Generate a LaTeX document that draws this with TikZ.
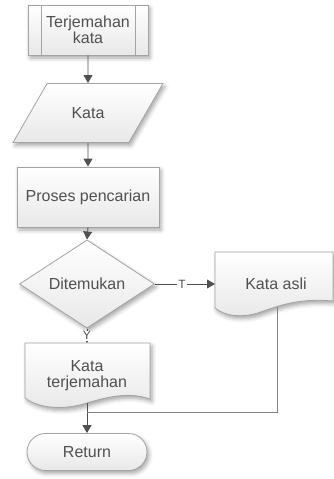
\documentclass[tikz,border=0pt]{standalone}
\usepackage{fontspec}
\setmainfont{Liberation Sans}
\usetikzlibrary{shapes.geometric}
\usetikzlibrary{shapes.misc}
\usetikzlibrary{arrows.meta}
\usetikzlibrary{shadows.blur}
\definecolor{lineGray}{HTML}{A3A3A3}
\definecolor{arrowGray}{HTML}{505050}
\definecolor{textGray}{HTML}{505050}
\tikzset{mybox/.style={draw=lineGray, line width=0.8pt, top color=white, bottom color=black!9, text=textGray, inner sep=0pt, font=\fontsize{16}{16}\selectfont, align=center, blur shadow={shadow xshift=2pt, shadow yshift=-3pt, shadow blur radius=4pt, shadow opacity=35}}}
\tikzset{myboxStart/.style={mybox, minimum width=120pt, minimum height=50pt, path picture={
  \draw[lineGray] ([xshift=13pt]path picture bounding box.north west) -- ([xshift=13pt]path picture bounding box.south west);
  \draw[lineGray] ([xshift=-13pt]path picture bounding box.north east) -- ([xshift=-13pt]path picture bounding box.south east);}}}
\tikzset{myboxIO/.style={mybox, trapezium, trapezium left angle=60, trapezium right angle=120, trapezium stretches body, inner xsep=0pt, inner ysep=24pt, minimum width=150pt}}
\tikzset{myboxProc/.style={mybox, minimum width=142pt, minimum height=60pt}}
\tikzset{myboxDec/.style={mybox, diamond, minimum width=135pt, minimum height=66pt}}
\tikzset{myboxEnd/.style={mybox, rounded rectangle, minimum width=120pt, minimum height=37pt}}
\tikzset{myboxDoc/.style={mybox}}
\tikzset{docText/.style={text=textGray, font=\fontsize{16}{16}\selectfont, align=center}}
\tikzset{arr/.style={draw=arrowGray, line width=0.9pt, -{Triangle[width=9pt,length=8pt]}}}
\tikzset{lbl/.style={fill=white, inner sep=1pt, text=textGray, font=\fontsize{12}{12}\selectfont}}

\begin{document}
\begin{tikzpicture}[x=1pt, y=-1pt]
\useasboundingbox (0,0) rectangle (334,479);

\node[myboxStart] (start) at (88, 30) {Terjemahan\\kata};
\node[myboxIO] (kata) at (88, 113) {Kata};
\node[myboxProc] (proses) at (88, 197) {Proses pencarian};
\node[myboxDec] (cek) at (87, 284) {Ditemukan};

% dokumen
\draw[myboxDoc] (215,252) -- (333,252) -- (333,301)
  .. controls (300,298) and (280,305) .. (258,313)
  .. controls (240,318) and (225,316) .. (215,308) -- cycle;
\node[docText] (asli) at (276, 284) {Kata asli};
\coordinate (asliIn) at (215, 284);
\coordinate (asliOut) at (277, 307);

\draw[myboxDoc] (25,343) -- (150,343) -- (150,399)
  .. controls (130,392) and (110,396) .. (87,403)
  .. controls (65,410) and (40,409) .. (25,398) -- cycle;
\node[docText] (terj) at (87, 376) {Kata\\terjemahan};
\coordinate (terjIn) at (87, 343);
\coordinate (terjOut) at (87, 403);

\node[myboxEnd] (ret) at (87, 452) {Return};
\coordinate (join) at (87, 412);

\draw[arr] (start.south) to (kata.north);
\draw[arr] (kata.south) to (proses.north);
\draw[arr] (proses.south) to (cek.north);
\draw[arr] (cek.east) -- node[lbl, pos=0.45] {T} (asliIn);
\draw[arr] (cek.south) -- node[lbl] {Y} (terjIn);
\draw[arr] (terjOut) to (ret.north);
\draw[draw=lineGray!80!black, line width=0.8pt] (asliOut) |- (join);

\end{tikzpicture}
\end{document}
